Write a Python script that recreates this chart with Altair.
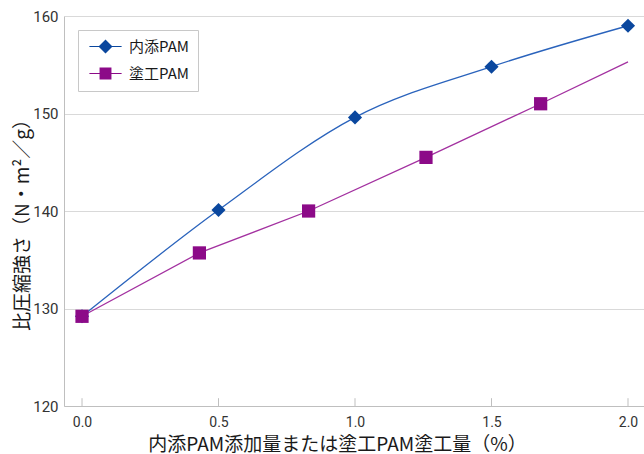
import altair as alt
import pandas as pd

# ---- data ----
series_names = ["内添PAM", "塗工PAM"]
x_internal = [0.0, 0.5, 1.0, 1.5, 2.0]
y_internal = [129.2, 140.1, 149.6, 154.8, 159.0]
x_coated = [0.0, 0.43, 0.83, 1.26, 1.68, 2.0]
y_coated = [129.2, 135.7, 140.0, 145.5, 151.0, 155.3]
coated_marker = [True, True, True, True, True, False]
x_tick_values = [0.0, 0.5, 1.0, 1.5, 2.0]
y_tick_values = [120, 130, 140, 150, 160]

x_title = "内添PAM添加量または塗工PAM塗工量（%）"
y_title = "比圧縮強さ（N・m²／g）"

# ---- styles ----
blue_marker = "#0A479E"
blue_line = "#2A63BC"
purple_marker = "#8C0A88"
purple_line = "#A331A0"
grid_color = "#D9D9D9"
axis_color = "#BFBFBF"
cjk_font = "Noto Sans CJK JP"
num_font = "Liberation Sans Narrow, Roboto, sans-serif"

df_int = pd.DataFrame({"x": x_internal, "y": y_internal})
df_coat = pd.DataFrame({"x": x_coated, "y": y_coated, "marker": coated_marker})
df_ticks = pd.DataFrame({"x": x_tick_values})
df_legend = pd.DataFrame({"series": series_names})

xscale = alt.Scale(domain=[-0.066, 2.0586], nice=False, zero=False)
yscale = alt.Scale(domain=[120, 160], nice=False, zero=False)

x_axis = alt.Axis(
    values=x_tick_values, format=".1f", grid=False, ticks=False,
    domainColor=axis_color, labelFont=num_font, labelFontSize=14,
    labelColor="#333333", labelPadding=9,
    title=x_title, titleFont=cjk_font, titleFontSize=19, titleFontWeight="normal",
    titleColor="#1a1a1a", titleX=273, titleY=44, titleBaseline="alphabetic",
)
y_axis = alt.Axis(
    values=y_tick_values, grid=True, gridColor=grid_color, ticks=False,
    domainColor=axis_color, labelFont=num_font, labelFontSize=15,
    labelColor="#333333", labelPadding=6,
    title=y_title, titleFont=cjk_font, titleFontSize=19, titleFontWeight="normal",
    titleColor="#1a1a1a", titleX=-36, titleY=204, titleBaseline="alphabetic",
    titleAngle=-90, titleAlign="center",
)

X = alt.X("x:Q", scale=xscale, axis=x_axis)
Y = alt.Y("y:Q", scale=yscale, axis=y_axis)

# inward tick marks on the x axis
ticks = alt.Chart(df_ticks).mark_rule(color=axis_color, strokeWidth=1).encode(
    x=alt.X("x:Q", scale=xscale, axis=x_axis),
    y=alt.datum(120),
    y2=alt.datum(120.8),
)

line_int = alt.Chart(df_int).mark_line(
    interpolate="cardinal", color=blue_line, strokeWidth=1.3
).encode(x=X, y=Y)
pts_int = alt.Chart(df_int).mark_point(
    shape="diamond", filled=True, size=200, color=blue_marker, opacity=1
).encode(x=X, y=Y)

line_coat = alt.Chart(df_coat).mark_line(
    color=purple_line, strokeWidth=1.3
).encode(x=X, y=Y)
pts_coat = alt.Chart(df_coat).transform_filter("datum.marker").mark_point(
    shape="square", filled=True, size=175, color=purple_marker, opacity=1
).encode(x=X, y=Y)

# legend (symbols: line through marker)
diamond_path = ("M -2.3 -0.08 L 2.3 -0.08 L 2.3 0.08 L -2.3 0.08 Z "
                "M 0 -1 L 1 0 L 0 1 L -1 0 Z")
square_path = ("M -2.3 -0.08 L 2.3 -0.08 L 2.3 0.08 L -2.3 0.08 Z "
               "M -0.85 -0.85 L 0.85 -0.85 L 0.85 0.85 L -0.85 0.85 Z")

legend_cfg = dict(
    orient="none", legendX=14, legendY=14, title=None, padding=9,
    fillColor="white", strokeColor="#C8C8C8", symbolSize=196,
    symbolOffset=11, labelOffset=16, rowPadding=11,
    labelFont=cjk_font, labelFontSize=15, labelColor="#1a1a1a",
    symbolStrokeWidth=0, symbolOpacity=1,
)

legend_layer = alt.Chart(df_legend).mark_point(filled=True, opacity=1, clip=True).encode(
    x=alt.value(-300),
    y=alt.value(-300),
    color=alt.Color("series:N",
                    scale=alt.Scale(domain=series_names, range=[blue_marker, purple_marker]),
                    legend=alt.Legend(**legend_cfg)),
    shape=alt.Shape("series:N",
                    scale=alt.Scale(domain=series_names, range=[diamond_path, square_path]),
                    legend=alt.Legend(**legend_cfg)),
)

chart = alt.layer(
    ticks, line_int, pts_int, line_coat, pts_coat, legend_layer
).properties(
    width=580, height=390,
    padding={"left": 64, "top": 16, "right": 0, "bottom": 48},
    autosize="none",
    background="white",
).configure_view(stroke=None)

chart.save("out.html", embed_options={"renderer": "svg", "actions": False})
